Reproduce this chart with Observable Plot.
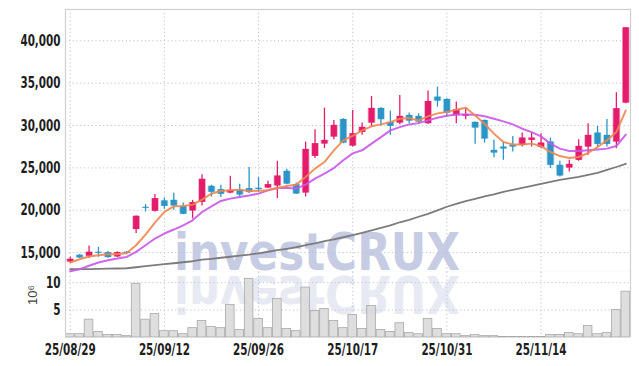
<!DOCTYPE html>
<html><head><meta charset="utf-8">
<script src="https://cdn.jsdelivr.net/npm/d3@7"></script>
<script src="https://cdn.jsdelivr.net/npm/@observablehq/plot@0.6"></script>
<style>
html,body{margin:0;padding:0;background:#fff;}
#chart{position:relative;width:639px;height:366px;overflow:hidden;}
#chart svg.plot{display:block;position:relative;z-index:1;}
#chart svg.wm{position:absolute;left:0;top:0;z-index:0;}
</style></head><body><div id="chart"></div>
<script>
const dates = [
"2025-08-29",
"2025-09-01","2025-09-02","2025-09-03","2025-09-04","2025-09-05",
"2025-09-08","2025-09-09","2025-09-10","2025-09-11","2025-09-12",
"2025-09-15","2025-09-16","2025-09-17","2025-09-18","2025-09-19",
"2025-09-22","2025-09-23","2025-09-24","2025-09-25","2025-09-26",
"2025-09-29","2025-09-30","2025-10-01","2025-10-02",
"2025-10-10",
"2025-10-13","2025-10-14","2025-10-15","2025-10-16","2025-10-17",
"2025-10-20","2025-10-21","2025-10-22","2025-10-23","2025-10-24",
"2025-10-27","2025-10-28","2025-10-29","2025-10-30","2025-10-31",
"2025-11-03","2025-11-04","2025-11-05","2025-11-06","2025-11-07",
"2025-11-10","2025-11-11","2025-11-12","2025-11-13","2025-11-14",
"2025-11-17","2025-11-18","2025-11-19","2025-11-20","2025-11-21",
"2025-11-24","2025-11-25","2025-11-26","2025-11-27"];

const open = [13890,14687,14570,15040,15000,14490,15040,17720,20345,19875,
21100,21170,20465,19910,20935,22820,22430,22030,22350,22550,
22590,22620,22860,24590,23020,22030,26360,27810,28635,30720,
27570,29190,30285,32020,30370,30285,31190,31075,30215,33350,
33080,31160,31075,30370,30600,27065,27455,27690,27655,28245,
27420,28045,25300,24980,25890,27455,29105,28835,28045,32645];
const high = [14445,14770,15780,15600,15120,15100,15140,19330,20665,21845,
21450,22000,20850,21170,24200,22940,22940,24000,23060,25030,
23850,23410,25770,24830,23210,28045,29500,32050,30600,30800,
31780,30285,33430,32100,31700,33550,31465,31390,34060,34530,
33160,32760,32100,30400,30640,28245,28045,28715,29105,29105,
29035,28520,25770,25890,28330,30215,29895,30720,33870,41530];
const low = [13775,14300,14300,14450,14330,14420,14750,17245,19790,19790,
20100,19990,19485,18970,20500,21560,21490,21950,21370,21960,
22115,22550,21370,23020,21900,21560,26090,27270,28330,27855,
27455,28835,29815,29900,28835,30100,30215,30130,30130,32170,
30990,30215,30690,27775,27925,26205,25890,26865,27455,27455,
27265,24910,23920,24510,25770,26480,27455,27455,27265,32570];
const close = [14210,14370,15040,14920,14410,15000,14880,19285,20230,21370,
20450,20500,19520,20900,23650,22115,21880,22350,21800,22080,
22430,23020,24040,23090,21915,27180,27855,28245,30015,27925,
29035,29780,32020,30690,29900,31075,30520,30400,32840,32880,
31450,31865,31310,29700,28400,26750,27220,27455,28520,28520,
27925,25300,24040,25415,27535,28835,27775,27775,31985,41530];

const maShort = [13830,14220,14530,14690,14800,14800,14960,15870,17130,18540,
19800,20460,20500,20660,21250,21960,22270,22350,22430,22270,
22290,22350,22620,22860,23020,23920,24910,25690,27070,28250,
28780,29420,29900,30130,30400,30800,30870,30600,31080,31430,
31580,31870,32100,31190,30210,29040,28050,27770,27770,27860,
27570,26870,26390,26160,26280,26750,27460,28250,29220,31780];
const maMid = [12800,13040,13450,13830,14100,14300,14490,15080,15870,16660,
17250,17720,18220,18810,19790,20460,21090,21370,21560,21730,
21960,22350,22620,22620,22550,23020,23730,24320,24980,25890,
26710,27070,27860,28630,29420,29810,30130,30280,30600,30920,
31160,31310,31310,31280,31080,30800,30490,30130,29620,29220,
28720,27860,27270,26980,26980,27070,27180,27270,27570,28920];
const maLong = [13040,13040,13060,13080,13100,13120,13150,13270,13390,13510,
13630,13740,13860,13980,14160,14270,14390,14510,14630,14750,
14920,15100,15280,15450,15630,15870,16100,16340,16570,16810,
17050,17340,17630,17930,18220,18580,18870,19230,19580,19990,
20410,20760,21060,21350,21640,21880,22170,22410,22650,22880,
23120,23350,23590,23770,23940,24180,24410,24770,25100,25480];

// volume in millions of shares (axis unit 10^6)
const volume = [0.6,0.6,3.25,1.0,0.45,0.45,0.25,9.8,3.25,4.3,
1.15,1.15,0.6,1.7,3.0,1.9,1.7,5.95,1.35,10.7,
3.4,1.7,7.05,1.55,1.15,9.1,4.85,5.2,3.0,1.7,
4.1,1.55,5.75,1.35,1.0,2.6,0.8,0.6,3.4,1.55,
0.6,0.6,0.25,0.45,0.25,0.25,0.1,0.1,0.1,0.1,
0.1,0.45,0.45,0.8,0.6,2.1,0.6,0.8,5.0,8.35];

const priceTicks = [15000,20000,25000,30000,35000,40000];
const volumeTicks = [5,10];
const dateTickLabels = ["25/08/29","25/09/12","25/09/26","25/10/17","25/10/31","25/11/14"];
const volumeUnitLabel = "10⁶";
const watermark = "investCRUX";

const fmtDate = d => d.slice(2).replace(/-/g, "/");
const tickIdx = dateTickLabels.map(l => dates.findIndex(d => fmtDate(d) === l));
const rows = dates.map((d, i) => ({i, date: d, open: open[i], high: high[i], low: low[i], close: close[i],
  maShort: maShort[i], maMid: maMid[i], maLong: maLong[i], volume: volume[i]}));
const up = rows.filter(d => d.close >= d.open);
const down = rows.filter(d => d.close < d.open);

const RED = "#e31c6c", BLUE = "#2b95c7";
const GRID = "#bcc3dc", FRAME = "#cfcfcf";
const FONT = "'Liberation Sans Narrow','DejaVu Sans Condensed','Arial Narrow',sans-serif";
const W = 639, ML = 65, MR = 9;
const xDomain = [-0.5, dates.length - 0.5];
const dash = "1.2,2.6";

const priceSvg = Plot.plot({
  width: W, height: 272,
  marginTop: 9, marginBottom: 0, marginLeft: ML, marginRight: MR,
  style: {fontFamily: FONT, fontSize: "16px", fontWeight: "bold", color: "#1e1e1e", background: "transparent"},
  x: {domain: xDomain, axis: null},
  y: {domain: [12650, 43690], ticks: priceTicks, tickSize: 0, tickPadding: 5, tickFormat: d3.format(","), label: null},
  marks: [
    Plot.ruleY(priceTicks, {stroke: GRID, strokeDasharray: dash, strokeWidth: 1}),
    Plot.ruleX(tickIdx, {stroke: GRID, strokeDasharray: dash, strokeWidth: 1}),
    Plot.frame({stroke: FRAME, strokeWidth: 1.2}),
    Plot.ruleX(up, {x: "i", y1: "low", y2: "high", stroke: RED, strokeWidth: 1.3}),
    Plot.ruleX(down, {x: "i", y1: "low", y2: "high", stroke: BLUE, strokeWidth: 1.3}),
    Plot.ruleX(up, {x: "i", y1: "open", y2: "close", stroke: RED, strokeOpacity: 0.4, strokeWidth: 7.6}),
    Plot.ruleX(down, {x: "i", y1: "open", y2: "close", stroke: BLUE, strokeOpacity: 0.4, strokeWidth: 7.6}),
    Plot.ruleX(up, {x: "i", y1: "open", y2: "close", stroke: RED, strokeWidth: 6}),
    Plot.ruleX(down, {x: "i", y1: "open", y2: "close", stroke: BLUE, strokeWidth: 6}),
    Plot.line(rows, {x: "i", y: "maLong", stroke: "#7c7c7c", strokeWidth: 1.8}),
    Plot.line(rows, {x: "i", y: "maMid", stroke: "#c957e8", strokeWidth: 2, strokeOpacity: 0.9}),
    Plot.line(rows, {x: "i", y: "maShort", stroke: "#f0864e", strokeWidth: 2, strokeOpacity: 0.9})
  ]
});

const volSvg = Plot.plot({
  width: W, height: 94,
  marginTop: 0, marginBottom: 29, marginLeft: ML, marginRight: MR,
  style: {fontFamily: FONT, fontSize: "16px", fontWeight: "bold", color: "#1e1e1e", background: "transparent"},
  x: {domain: xDomain, ticks: tickIdx, tickFormat: i => fmtDate(dates[i]), tickSize: 0, tickPadding: 6, label: null},
  y: {domain: [0, 11.85], ticks: volumeTicks, tickSize: 0, tickPadding: 5, label: null},
  marks: [
    Plot.ruleY(volumeTicks, {stroke: GRID, strokeDasharray: dash, strokeWidth: 1}),
    Plot.ruleX(tickIdx, {stroke: GRID, strokeDasharray: dash, strokeWidth: 1}),
    Plot.rectY(rows, {x1: d => d.i - 0.5, x2: d => d.i + 0.5, y: "volume", insetLeft: 0.4, insetRight: 0.4,
      fill: "#d8d8d8", fillOpacity: 0.85, stroke: "#a8a8a8", strokeWidth: 0.8}),
    Plot.ruleX(xDomain, {stroke: FRAME, strokeWidth: 1.2}),
    Plot.text([volumeUnitLabel], {frameAnchor: "left", dx: -33, rotate: -90, fontSize: 13, fontWeight: "normal",
      fill: "#444", fontFamily: "'Liberation Sans','DejaVu Sans',sans-serif"})
  ]
});

// narrow the tick labels like the reference's condensed face
function narrowTicks(svg) {
  d3.select(svg).selectAll("g[aria-label$='tick label'] text").each(function() {
    const s = this.textContent;
    const digits = (s.match(/[0-9]/g) || []).length;
    const other = s.length - digits;
    this.setAttribute("textLength", (digits * 7.3 + other * 3.6).toFixed(1));
    this.setAttribute("lengthAdjust", "spacingAndGlyphs");
  });
}
narrowTicks(priceSvg);
narrowTicks(volSvg);
priceSvg.setAttribute("class", (priceSvg.getAttribute("class") || "") + " plot");
volSvg.setAttribute("class", (volSvg.getAttribute("class") || "") + " plot");

// watermark layer behind both panels
const wm = d3.create("svg").attr("class", "wm").attr("width", W).attr("height", 366);
const addWm = (fill, transform) => wm.append("text")
  .attr("x", 317).attr("y", 270).attr("text-anchor", "middle")
  .attr("font-family", "'DejaVu Sans','Liberation Sans',sans-serif")
  .attr("font-weight", "bold").attr("font-size", 51)
  .attr("textLength", 286).attr("lengthAdjust", "spacingAndGlyphs")
  .attr("fill", fill).attr("transform", transform).text(watermark);
addWm("#e8eaf3", "matrix(1,0,0,-1,0,546)");
addWm("#c6cce4", null);

const chart = document.getElementById("chart");
chart.appendChild(wm.node());
chart.appendChild(priceSvg);
chart.appendChild(volSvg);
</script></body></html>
